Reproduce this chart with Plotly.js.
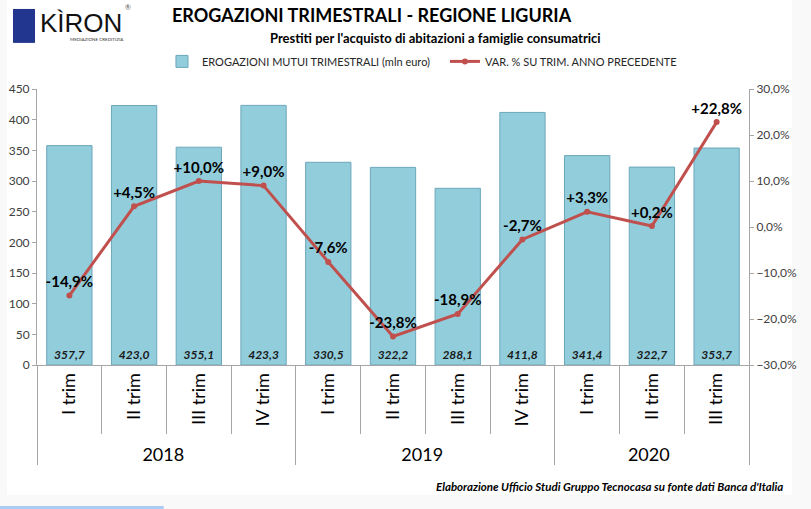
<!DOCTYPE html>
<html><head><meta charset="utf-8">
<script src="https://cdn.plot.ly/plotly-3.0.1.min.js"></script>
<style>html,body{margin:0;padding:0;background:#fff}#chart{width:811px;height:509px}</style>
</head><body><div id="chart"></div>
<script>
const years = ['2018','2018','2018','2018','2019','2019','2019','2019','2020','2020','2020'];
const quarters = ['I trim','II trim','III trim','IV trim','I trim','II trim','III trim','IV trim','I trim','II trim','III trim'];
const erogazioni = [357.7, 423.0, 355.1, 423.3, 330.5, 322.2, 288.1, 411.8, 341.4, 322.7, 353.7];
const variazione = [-14.9, 4.5, 10.0, 9.0, -7.6, -23.8, -18.9, -2.7, 3.3, 0.2, 22.8];

const FONT = 'Lato, "Open Sans", sans-serif';
const varText = variazione.map(v => (v > 0 ? '+' : '') + v.toFixed(1).replace('.', ',') + '%');
const idx = quarters.map((q, i) => i);
const boundaries = idx.map(i => i - 0.5).concat([quarters.length - 0.5]);

const bars = {
  type: 'bar', name: 'EROGAZIONI MUTUI TRIMESTRALI (mln euro)',
  x: [years, quarters], y: erogazioni,
  marker: {color: '#92CDDC', line: {color: '#6DA7BB', width: 1}},
  texttemplate: '%{y:.1f}', textposition: 'inside', insidetextanchor: 'start',
  textangle: 0, constraintext: 'none',
  textfont: {family: FONT, size: 12, color: '#1a1a1a', weight: 'bold', style: 'italic'},
  hoverinfo: 'skip'
};
const line = {
  type: 'scatter', mode: 'lines+markers+text', name: 'VAR. % SU TRIM. ANNO PRECEDENTE',
  x: [years, quarters], y: variazione, yaxis: 'y2',
  line: {color: '#C0504D', width: 3}, marker: {color: '#C0504D', size: 6},
  text: varText, texttemplate: '%{text}', textposition: 'top center',
  textfont: {family: FONT, size: 15, color: '#000', weight: 'bold'},
  cliponaxis: false, hoverinfo: 'skip'
};
// invisible helper so the category-separator axis is drawn
const sep = {
  type: 'scatter', mode: 'markers', x: idx, y: idx.map(() => null), xaxis: 'x2',
  showlegend: false, hoverinfo: 'skip', marker: {opacity: 0}
};

const layout = {
  width: 811, height: 509,
  margin: {l: 37, r: 62, t: 89, b: 144, autoexpand: false},
  paper_bgcolor: '#F9F9F9', plot_bgcolor: '#fff',
  font: {family: FONT, color: '#262626'},
  separators: ',.',
  bargap: 0.3,
  showlegend: true,
  legend: {orientation: 'h', x: 0.1755, y: 1.1, xanchor: 'left', yanchor: 'middle',
           font: {size: 11, color: '#262626'}, entrywidth: 238, entrywidthmode: 'pixels',
           traceorder: 'normal', bgcolor: 'rgba(0,0,0,0)'},
  xaxis: {type: 'multicategory', range: [-0.5, quarters.length - 0.5], automargin: false,
          showline: true, linecolor: '#A6A6A6', linewidth: 1,
          ticks: 'outside', ticklen: 5, tickcolor: '#A6A6A6', tickangle: -90,
          showdividers: true, dividercolor: '#A6A6A6', dividerwidth: 1,
          tickfont: {size: 18, color: '#000'}, showgrid: false},
  xaxis2: {overlaying: 'x', anchor: 'y', range: [-0.5, quarters.length - 0.5], automargin: false,
           tickmode: 'array', tickvals: boundaries, showticklabels: false,
           ticks: 'outside', ticklen: 68, tickcolor: '#A6A6A6', showline: false, showgrid: false, zeroline: false},
  yaxis: {range: [0, 450], dtick: 50, showline: true, linecolor: '#A6A6A6', automargin: false,
          ticks: 'outside', ticklen: 4, tickcolor: '#A6A6A6', showgrid: false, zeroline: false,
          tickfont: {size: 12, color: '#404040'}},
  yaxis2: {range: [-30, 30], dtick: 10, overlaying: 'y', side: 'right', showline: true, automargin: false,
           linecolor: '#A6A6A6', ticks: 'outside', ticklen: 4, tickcolor: '#A6A6A6',
           showgrid: false, zeroline: false, tickformat: '.1f', ticksuffix: '%',
           tickfont: {size: 12, color: '#404040'}},
  shapes: [
    {type: 'rect', xref: 'paper', yref: 'paper', layer: 'below', x0: -0.0421, x1: 1.0604, y0: -0.471, y1: 1.33,
     fillcolor: '#FFFFFF', line: {width: 0}},
    {type: 'rect', xref: 'paper', yref: 'paper', layer: 'below', x0: -0.06, x1: 0.178, y0: -0.53, y1: -0.511,
     fillcolor: '#A9CDF5', line: {width: 0}},
    {type: 'rect', xref: 'paper', yref: 'paper', x0: -0.0337, x1: -0.0028, y0: 1.167, y1: 1.290,
     fillcolor: '#22358F', line: {width: 0}},
  ],
  annotations: [
    {text: 'EROGAZIONI TRIMESTRALI - REGIONE LIGURIA', xref: 'paper', yref: 'paper',
     x: 0.47, y: 1.22, xanchor: 'center', yanchor: 'bottom', showarrow: false,
     font: {size: 18, color: '#000', weight: 'bold'}},
    {text: "Prestiti per l'acquisto di abitazioni a famiglie consumatrici", xref: 'paper', yref: 'paper',
     x: 0.795, y: 1.148, xanchor: 'right', yanchor: 'bottom', showarrow: false,
     font: {size: 13, color: '#000', weight: 'bold'}},
    {text: 'KÌRON', xref: 'paper', yref: 'paper', x: 0.0014, y: 1.238, xanchor: 'left', yanchor: 'middle',
     showarrow: false, font: {size: 26, color: '#111', family: '"Liberation Sans", Arial, sans-serif'}},
    {text: '®', xref: 'paper', yref: 'paper', x: 0.121, y: 1.275, xanchor: 'left', yanchor: 'bottom',
     showarrow: false, font: {size: 7, color: '#555'}},
    {text: 'MEDIAZIONE CREDITIZIA', xref: 'paper', yref: 'paper', x: 0.043, y: 1.178, xanchor: 'left', yanchor: 'middle',
     showarrow: false, font: {size: 4.5, color: '#333'}},
    {text: "Elaborazione Ufficio Studi Gruppo Tecnocasa su fonte dati Banca d'Italia", xref: 'paper', yref: 'paper',
     x: 1.05, y: -0.44, xanchor: 'right', yanchor: 'middle', showarrow: false,
     font: {size: 11.5, color: '#000', weight: 'bold', style: 'italic'}}
  ]
};

Plotly.newPlot('chart', [bars, line, sep], layout, {displayModeBar: false, staticPlot: true});
</script></body></html>
